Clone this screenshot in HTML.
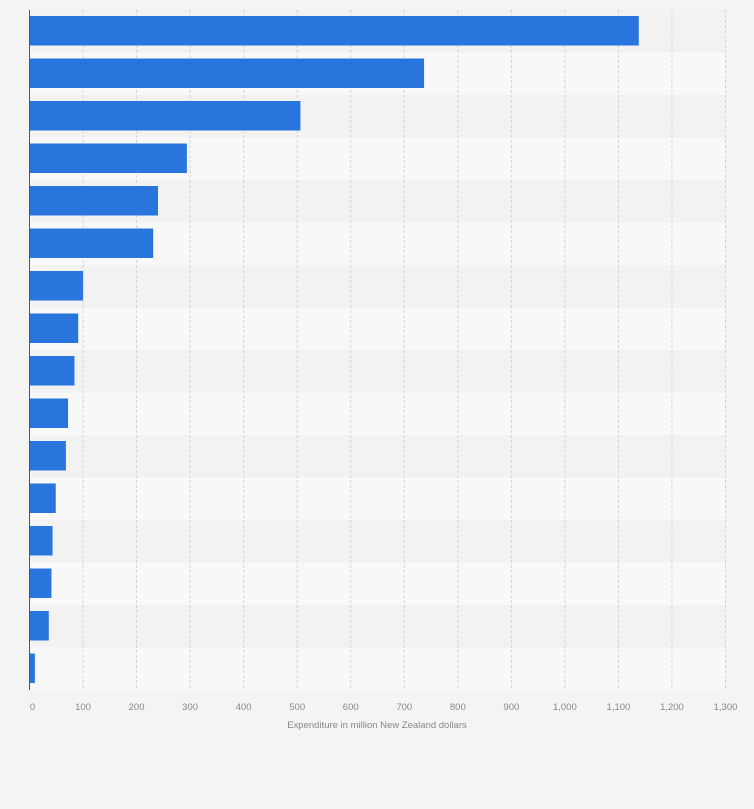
<!DOCTYPE html>
<html><head><meta charset="utf-8"><style>
body{margin:0;background:#f4f4f4;font-family:"Liberation Sans",sans-serif;}
svg{display:block}
</style></head><body>
<svg id="chart" width="754" height="809"></svg>
<script>
const categories=["Item 1","Item 2","Item 3","Item 4","Item 5","Item 6","Item 7","Item 8","Item 9","Item 10","Item 11","Item 12","Item 13","Item 14","Item 15","Item 16"];
const values=[1138,737,506,294,240,231,100,91,84,72,68,49,43,41,36,10];
const ticks=[0,100,200,300,400,500,600,700,800,900,1000,1100,1200,1300];
const tickLabels=["0","100","200","300","400","500","600","700","800","900","1,000","1,100","1,200","1,300"];
const NS="http://www.w3.org/2000/svg";
const svgEl=document.getElementById('chart');
const x0=29.5,x1=725.5,topY=10,rowH=42.5,maxV=1300;
const xs=v=>x0+(v/maxV)*(x1-x0);
function mk(t,a){const e=document.createElementNS(NS,t);for(const k in a)e.setAttribute(k,a[k]);svgEl.appendChild(e);return e;}
categories.forEach((c,i)=>{
  const r=mk('rect',{x:x0,y:topY+i*rowH,width:x1-x0,height:rowH,fill:i%2?'#f8f8f8':'#f2f2f2'});
  
  
});
ticks.forEach((t,i)=>{
  if(t>0){const g=mk('line',{x1:xs(t),x2:xs(t),y1:topY,y2:topY+rowH*categories.length,stroke:'#d4d4d4','stroke-dasharray':'3,2'});
  
  }
  const tx=mk('text',{x:xs(t)+(t==0?3:0),y:710,'text-anchor':'middle','font-size':'9.5',fill:'#888'});
  tx.textContent=tickLabels[i];
  
  
});
values.forEach((v,i)=>{
  const b=mk('rect',{x:x0,y:topY+i*rowH+6,width:xs(v)-x0,height:29.5,fill:'#2876dd'});
  
  
});
const ax=mk('line',{x1:x0,x2:x0,y1:topY,y2:topY+rowH*categories.length,stroke:'#555','stroke-width':1});


const tt=mk('text',{x:377,y:728,'text-anchor':'middle','font-size':'9.5',fill:'#888'});
tt.textContent='Expenditure in million New Zealand dollars';


</script>
</body></html>
